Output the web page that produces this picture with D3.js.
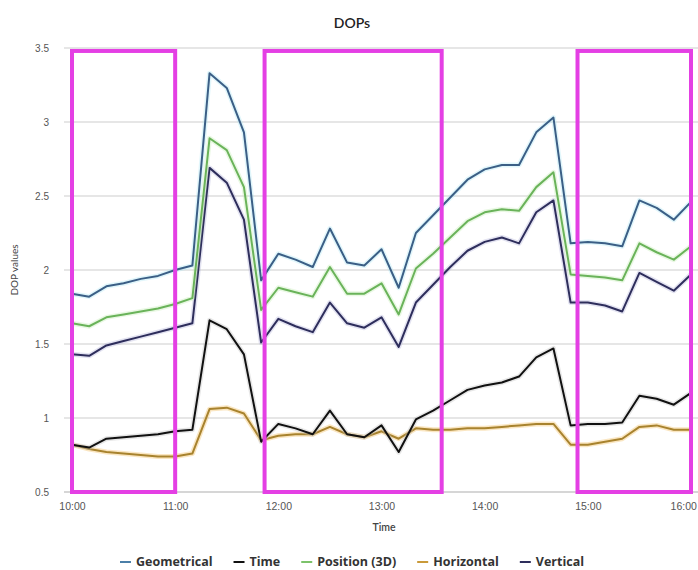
<!DOCTYPE html>
<html>
<head>
<meta charset="utf-8">
<script src="https://cdn.jsdelivr.net/npm/d3@7"></script>
<style>
  body { margin: 0; background: #fff; }
  svg { display: block; font-family: Lato, "Open Sans", sans-serif; }
</style>
</head>
<body>
<svg id="chart"></svg>
<script>
// sample times, every 10 minutes
const times = [
  "10:00", "10:10", "10:20", "10:30", "10:40", "10:50",
  "11:00", "11:10", "11:20", "11:30", "11:40", "11:50",
  "12:00", "12:10", "12:20", "12:30", "12:40", "12:50",
  "13:00", "13:10", "13:20", "13:30", "13:40", "13:50",
  "14:00", "14:10", "14:20", "14:30", "14:40", "14:50",
  "15:00", "15:10", "15:20", "15:30", "15:40", "15:50",
  "16:00"
];

const geometrical = [
  1.84, 1.82, 1.89, 1.91, 1.94, 1.96, 2.00, 2.03, 3.33, 3.23, 2.93, 1.93,
  2.11, 2.07, 2.02, 2.28, 2.05, 2.03, 2.14, 1.88, 2.25, 2.37, 2.49, 2.61,
  2.68, 2.71, 2.71, 2.93, 3.03, 2.18, 2.19, 2.18, 2.16, 2.47, 2.42, 2.34,
  2.46
];
const timeDop = [
  0.82, 0.80, 0.86, 0.87, 0.88, 0.89, 0.91, 0.92, 1.66, 1.60, 1.43, 0.84,
  0.96, 0.93, 0.89, 1.05, 0.89, 0.87, 0.95, 0.77, 0.99, 1.05, 1.12, 1.19,
  1.22, 1.24, 1.28, 1.41, 1.47, 0.95, 0.96, 0.96, 0.97, 1.15, 1.13, 1.09,
  1.17
];
const position3d = [
  1.64, 1.62, 1.68, 1.70, 1.72, 1.74, 1.77, 1.81, 2.89, 2.81, 2.56, 1.73,
  1.88, 1.85, 1.82, 2.02, 1.84, 1.84, 1.91, 1.70, 2.01, 2.11, 2.22, 2.33,
  2.39, 2.41, 2.40, 2.56, 2.66, 1.97, 1.96, 1.95, 1.93, 2.18, 2.12, 2.07,
  2.16
];
const horizontal = [
  0.82, 0.79, 0.77, 0.76, 0.75, 0.74, 0.74, 0.76, 1.06, 1.07, 1.03, 0.85,
  0.88, 0.89, 0.89, 0.94, 0.89, 0.87, 0.91, 0.86, 0.93, 0.92, 0.92, 0.93,
  0.93, 0.94, 0.95, 0.96, 0.96, 0.82, 0.82, 0.84, 0.86, 0.94, 0.95, 0.92,
  0.92
];
const vertical = [
  1.43, 1.42, 1.49, 1.52, 1.55, 1.58, 1.61, 1.64, 2.69, 2.59, 2.34, 1.51,
  1.67, 1.62, 1.58, 1.78, 1.64, 1.61, 1.68, 1.48, 1.78, 1.90, 2.02, 2.13,
  2.19, 2.22, 2.18, 2.39, 2.47, 1.78, 1.78, 1.76, 1.72, 1.98, 1.92, 1.86,
  1.97
];

const seriesNames = ["Geometrical", "Time", "Position (3D)", "Horizontal", "Vertical"];
const yTicks = [0.5, 1, 1.5, 2, 2.5, 3, 3.5];
const yTickLabels = ["0.5", "1", "1.5", "2", "2.5", "3", "3.5"];
const xTickLabels = ["10:00", "11:00", "12:00", "13:00", "14:00", "15:00", "16:00"];

// highlighted windows (start, end time)
const highlightStart = ["10:00", "11:52", "14:54"];
const highlightEnd = ["11:00", "13:35", "16:00"];

const width = 698;
const height = 570;
const margin = { top: 48, right: 7, bottom: 78, left: 72 };

const parse = d3.timeParse("%H:%M");
const svg = d3.select("#chart").attr("width", width).attr("height", height);

const xScale = d3.scaleTime()
  .domain([parse("10:00"), parse("16:00")])
  .range([margin.left, width - margin.right]);

const yScale = d3.scaleLinear()
  .domain([0.5, 3.5])
  .range([height - margin.bottom, margin.top]);

// grid lines
svg.append("g")
  .selectAll("line")
  .data(yTicks)
  .enter()
  .append("line")
  .attr("x1", 64)
  .attr("x2", width)
  .attr("y1", (d) => yScale(d))
  .attr("y2", (d) => yScale(d))
  .attr("stroke", (d) => d === 0.5 ? "#c8c8c8" : "#dedede")
  .attr("stroke-width", 1.5);

// y axis labels
const yAxis = svg.append("g")
  .attr("transform", "translate(52,0)")
  .call(d3.axisLeft(yScale).tickValues(yTicks).tickSize(0)
    .tickFormat((d, i) => yTickLabels[i]));
yAxis.select(".domain").remove();
yAxis.selectAll("text")
  .attr("fill", "#555")
  .style("font-size", "10px")
  .attr("dy", "0.32em");

// x axis labels
const xAxis = svg.append("g")
  .attr("transform", `translate(0, ${height - margin.bottom})`)
  .call(d3.axisBottom(xScale).tickValues(xTickLabels.map(parse)).tickSize(0)
    .tickFormat((d, i) => xTickLabels[i]));
xAxis.select(".domain").remove();
xAxis.selectAll("text")
  .attr("fill", "#555")
  .attr("y", 11)
  .style("font-size", "10.5px");
// keep last label inside the picture
xAxis.selectAll(".tick text").each(function () {
  const box = this.getBBox();
  const tick = this.parentNode.transform.baseVal.consolidate().matrix.e;
  const right = tick + box.x + box.width;
  if (right > width - 1) d3.select(this).attr("x", width - 1 - right);
});

// lines
const series = [
  { name: "Horizontal", values: horizontal, color: "#a8832e", halo: "#f0b850" },
  { name: "Time", values: timeDop, color: "#111", halo: "#bbb" },
  { name: "Vertical", values: vertical, color: "#2e2e5c", halo: "#b0b0d8" },
  { name: "Position (3D)", values: position3d, color: "#6ab35a", halo: "#c0ecb0" },
  { name: "Geometrical", values: geometrical, color: "#3b5f86", halo: "#a8e4f4" }
];

const line = d3.line()
  .x((d, i) => xScale(parse(times[i])))
  .y((d) => yScale(d));

const lines = svg.append("g").attr("fill", "none");
series.forEach((s) => {
  lines.append("path")
    .attr("d", line(s.values))
    .attr("stroke", s.halo)
    .attr("stroke-width", 5)
    .attr("stroke-opacity", 0.35)
    .attr("stroke-linejoin", "round");
  lines.append("path")
    .attr("d", line(s.values))
    .attr("stroke", s.color)
    .attr("stroke-width", 2)
    .attr("stroke-linejoin", "round");
});

// highlight boxes
svg.append("g")
  .selectAll("rect")
  .data(highlightStart)
  .enter()
  .append("rect")
  .attr("x", (d) => xScale(parse(d)))
  .attr("y", yScale(3.48))
  .attr("width", (d, i) => xScale(parse(highlightEnd[i])) - xScale(parse(d)))
  .attr("height", yScale(0.5) - yScale(3.48))
  .attr("fill", "none")
  .attr("stroke", "#e43fe4")
  .attr("stroke-width", 4);

// title
svg.append("text")
  .attr("x", 352)
  .attr("y", 28)
  .attr("text-anchor", "middle")
  .attr("fill", "#222")
  .style("font-size", "14px")
  .style("font-weight", "600")
  .text("DOPs");

// axis titles
svg.append("text")
  .attr("x", 384)
  .attr("y", 531)
  .attr("text-anchor", "middle")
  .attr("fill", "#444")
  .style("font-size", "10.5px")
  .style("font-weight", "600")
  .text("Time");

svg.append("text")
  .attr("transform", "translate(18, 270) rotate(-90)")
  .attr("text-anchor", "middle")
  .attr("fill", "#444")
  .style("font-size", "10px")
  .text("DOP values");

// legend
const legendColors = {
  "Geometrical": "#4b7fa8",
  "Time": "#111",
  "Position (3D)": "#7cc26a",
  "Horizontal": "#c99a3a",
  "Vertical": "#2e2e5c"
};
const legend = svg.append("g");
let cursor = 0;
seriesNames.forEach((name) => {
  const g = legend.append("g").attr("transform", `translate(${cursor}, 0)`);
  g.append("line")
    .attr("x1", 0).attr("x2", 11)
    .attr("stroke", legendColors[name])
    .attr("stroke-width", 2);
  const t = g.append("text")
    .attr("x", 16)
    .attr("dy", "0.35em")
    .attr("fill", "#333")
    .style("font-family", "'Open Sans', sans-serif")
    .style("font-size", "12.5px")
    .style("font-weight", "bold")
    .text(name);
  cursor += 16 + t.node().getComputedTextLength() + 21;
});
const legendWidth = cursor - 21;
legend.attr("transform", `translate(${352 - legendWidth / 2}, 562)`);
</script>
</body>
</html>
